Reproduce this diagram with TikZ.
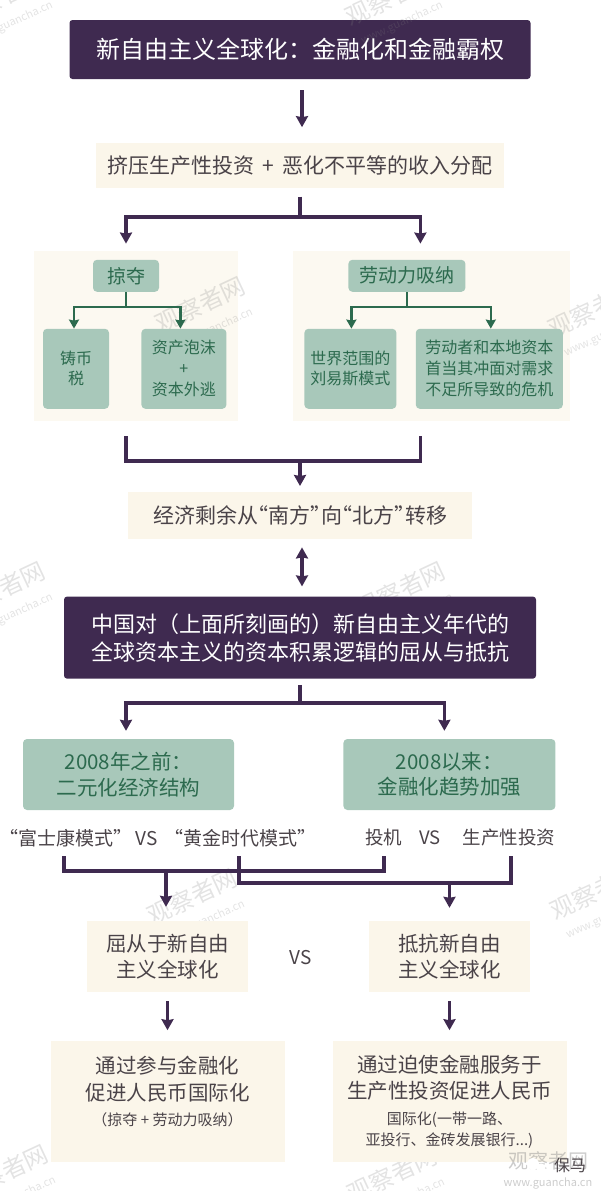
\documentclass[tikz,border=0pt]{standalone}
\usepackage{fontspec}
\setmainfont{Noto Sans CJK SC}
\usepackage{tikz}
\usetikzlibrary{positioning, arrows.meta}
\definecolor{plum}{HTML}{3F2A50}
\definecolor{cream}{HTML}{FBF6EA}
\definecolor{panelcream}{HTML}{FCF9F1}
\definecolor{sage}{HTML}{A8C8BA}
\definecolor{pine}{HTML}{2C6A4E}
\definecolor{ink}{HTML}{4A4348}
\newcommand{\fs}[1]{\fontsize{#1}{#1}\selectfont}
\newcommand{\oq}{\kern-0.5em“}
\newcommand{\cq}{”\kern-0.5em}
\tikzstyle{darkbox} = [rectangle, rounded corners=3pt, fill=plum, text=white, align=center, inner sep=0pt]
\tikzstyle{softbox} = [rectangle, fill=cream, text=ink, align=center, inner sep=0pt]
\tikzstyle{panel} = [rectangle, fill=panelcream, inner sep=0pt]
\tikzstyle{greenbox} = [rectangle, rounded corners=4pt, fill=sage, text=pine, align=center, inner sep=0pt]
\tikzstyle{label} = [text=ink, inner sep=0pt, align=center]
\tikzstyle{arrow} = [line width=3.4pt, draw=plum, -{Stealth[inset=1pt,length=11pt,width=12pt]}]
\tikzstyle{line} = [line width=3.4pt, draw=plum]
\tikzstyle{greenarrow} = [line width=2.5pt, draw=pine, -{Stealth[inset=1pt,length=9pt,width=10pt]}]
\tikzstyle{greenline} = [line width=2.5pt, draw=pine]
\tikzstyle{stamp} = [rotate=25, text=gray, text opacity=0.22, align=center, inner sep=0pt, font=\fs{24}]
\begin{document}
\begin{tikzpicture}[x=1pt, y=1pt]
        \useasboundingbox (0,0) rectangle (600,-1191);

        \node (title) [darkbox, minimum width=461pt, minimum height=59pt, font=\fs{24}] at (300,-49.5) {新自由主义全球化：金融化和金融霸权};
        \node (squeeze) [softbox, minimum width=408pt, minimum height=45pt, font=\fs{21}, below=64pt of title] {挤压生产性投资\hspace{3pt} + \hspace{3pt}恶化不平等的收入分配};

        \node (lootpanel) [panel, minimum width=204pt, minimum height=170pt, below=62pt of squeeze, xshift=-164pt] {};
        \node (laborpanel) [panel, minimum width=277pt, minimum height=170pt, right=55pt of lootpanel] {};

        \foreach \mx/\my [count=\i] in {5/8, 395/8, 205/315, 598/320, 5/600, 405/600, 197/907, 600/902, 8/1183, 397/1185}
            \node (mark\i) [stamp] at (\mx,-\my) {观察者网\\[-2pt]{\fs{11}www.guancha.cn}};

        \node (loot) [greenbox, minimum width=66pt, minimum height=32pt, font=\fs{19}, below right=9pt and 59pt of lootpanel.north west] {掠夺};
        \node (labor) [greenbox, minimum width=117pt, minimum height=32pt, font=\fs{19}, below right=9pt and 55pt of laborpanel.north west] {劳动力吸纳};
        \node (seign) [greenbox, minimum width=66pt, minimum height=80pt, font=\fs{16}, below right=78pt and 9pt of lootpanel.north west] {铸币\\[4pt]税};
        \node (bubble) [greenbox, minimum width=85pt, minimum height=80pt, font=\fs{16}, right=32pt of seign] {资产泡沫\\[5pt]+\\[5pt]资本外逃};
        \node (lewis) [greenbox, minimum width=92pt, minimum height=80pt, font=\fs{16}, below right=78pt and 11pt of laborpanel.north west] {世界范围的\\[4pt]刘易斯模式};
        \node (crisis) [greenbox, minimum width=147pt, minimum height=80pt, font=\fs{16}, right=19pt of lewis] {劳动者和本地资本\\[5pt]首当其冲面对需求\\[5pt]不足所导致的危机};

        \node (surplus) [softbox, minimum width=344pt, minimum height=47pt, font=\fs{21}, below=71pt of lootpanel.south -| squeeze.south] {经济剩余从\oq 南方\cq 向\oq 北方\cq 转移};
        \node (china) [darkbox, minimum width=472pt, minimum height=82pt, font=\fs{22}, below=57pt of surplus] {中国对（上面所刻画的）新自由主义年代的\\[6pt]全球资本主义的资本积累逻辑的屈从与抵抗};

        \node (before) [greenbox, minimum width=211pt, minimum height=71pt, font=\fs{20.5}, below=60pt of china.south -| lootpanel.south, xshift=-7.5pt] {2008年之前：\\[5pt]二元化经济结构};
        \node (since) [greenbox, minimum width=212pt, minimum height=71pt, font=\fs{20.5}, right=109pt of before] {2008以来：\\[5pt]金融化趋势加强};
        \node (models) [label, font=\fs{19}, anchor=west] at (-0.5,-838) {“富士康模式”\hspace{3pt}VS\hspace{7pt}“黄金时代模式”};
        \node (specul) [label, font=\fs{18.5}, anchor=west] at (365,-838) {投机\hspace{17pt}VS\hspace{22pt}生产性投资};

        \node (submit) [softbox, minimum width=161pt, minimum height=71pt, font=\fs{20.5}] at (167.5,-956.5) {屈从于新自由\\[5pt]主义全球化};
        \node (resist) [softbox, minimum width=161pt, minimum height=71pt, font=\fs{20.5}] at (449.5,-956.5) {抵抗新自由\\[5pt]主义全球化};
        \node (vs) [label, font=\fs{19}] at (301,-958) {VS};
        \node (join) [softbox, minimum width=234pt, minimum height=121pt, font=\fs{20.5}, below=49pt of submit] {通过参与金融化\\[6pt]促进人民币国际化\\[5pt]{\fs{15}（掠夺 + 劳动力吸纳）}\\[1pt]{\fs{15}~}};
        \node (force) [softbox, minimum width=234pt, minimum height=121pt, font=\fs{20.5}, below=49pt of resist] {通过迫使金融服务于\\[6pt]生产性投资促进人民币\\[5pt]{\fs{15}国际化(一带一路、}\\[1pt]{\fs{15}亚投行、金砖发展银行...)}};

        % corner mark
        \node (ghost) [text=gray, text opacity=0.4, align=center, inner sep=0pt, font=\fs{20}] at (548,-1170) {观察者网\\[-2pt]{\fs{11}www.guancha.cn}};
        \node (chatA) [circle, fill=white, minimum size=12pt, inner sep=0pt] at (533,-1164) {};
        \node (chatB) [circle, fill=white, minimum size=9pt, inner sep=0pt] at (541,-1168) {};
        \node (baoma) [text=ink, inner sep=0pt, font=\fs{16}] at (570,-1165) {保马};

        % junctions
        \coordinate (splitA) at (300,-217);
        \coordinate (mergeA) at (300,-461);
        \coordinate (splitB) at (300,-703);
        \coordinate (mergeB) at (166,-871);
        \coordinate (mergeC) at (449.5,-883);

        \draw [arrow] ([xshift=2pt,yshift=-11pt]title.south) -- ([xshift=2pt,yshift=16pt]squeeze.north);
        \draw [line] ([yshift=-8pt]squeeze.south) -- (splitA);
        \draw [arrow] (splitA) -| ([xshift=-10pt,yshift=7pt]lootpanel.north);
        \draw [arrow] (splitA) -| ([xshift=-11.5pt,yshift=7pt]laborpanel.north);

        \draw [greenline] (loot.south) -- ++(0,-15) coordinate (splitL);
        \draw [greenarrow] (splitL) -| ([xshift=-2pt]seign.north);
        \draw [greenarrow] (splitL) -| ([xshift=-3.5pt]bubble.north);
        \draw [greenline] (labor.south) -- ++(0,-15) coordinate (splitR);
        \draw [greenarrow] (splitR) -| ([xshift=1pt]lewis.north);
        \draw [greenarrow] (splitR) -| ([xshift=1.5pt]crisis.north);

        \draw [line] ([xshift=-10pt,yshift=-15pt]lootpanel.south) |- (mergeA) -| ([xshift=-11.5pt,yshift=-15pt]laborpanel.south);
        \draw [arrow] (mergeA) -- ([yshift=6pt]surplus.north);
        \draw [arrow, {Stealth[inset=1pt,length=11pt,width=12pt]}-{Stealth[inset=1pt,length=11pt,width=12pt]}] ([xshift=2pt,yshift=-8pt]surplus.south) -- ([xshift=2pt,yshift=10pt]china.north);
        \draw [line] ([yshift=-6pt]china.south) -- (splitB);
        \draw [arrow] (splitB) -| ([xshift=-2.5pt,yshift=8pt]before.north);
        \draw [arrow] (splitB) -| ([xshift=-5pt,yshift=8pt]since.north);

        \draw [line] ([xshift=64.5pt,yshift=-9pt]models.south west) |- (mergeB) -| ([xshift=19pt,yshift=-9pt]specul.south west);
        \draw [line] ([xshift=239.5pt,yshift=-9pt]models.south west) |- (mergeC) -| ([xshift=146pt,yshift=-9pt]specul.south west);
        \draw [arrow] (mergeB) -- ([xshift=-1.5pt,yshift=14pt]submit.north);
        \draw [arrow] (mergeC) -- ([yshift=13pt]resist.north);
        \draw [arrow] ([yshift=-9pt]submit.south) -- ([yshift=11pt]join.north);
        \draw [arrow] ([yshift=-9pt]resist.south) -- ([yshift=11pt]force.north);
\end{tikzpicture}
\end{document}
